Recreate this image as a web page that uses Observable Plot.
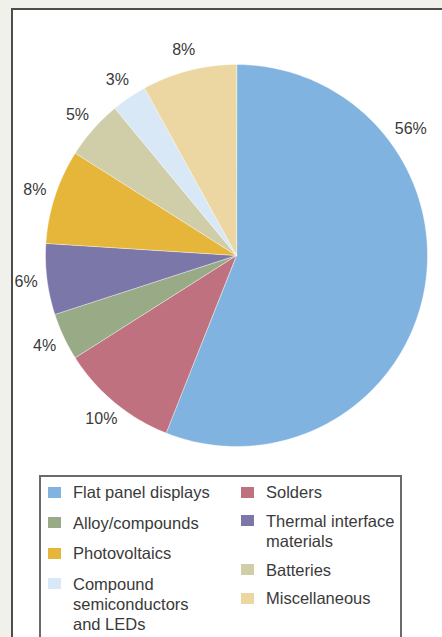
<!DOCTYPE html>
<html>
<head>
<meta charset="utf-8">
<script src="https://cdn.jsdelivr.net/npm/d3@7"></script>
<script src="https://cdn.jsdelivr.net/npm/@observablehq/plot@0.6"></script>
<style>
  html, body { margin: 0; padding: 0; width: 442px; height: 637px; overflow: hidden; background: #f1f1ec; font-family: "Liberation Sans", Arial, sans-serif; }
  #panel { position: absolute; left: 11px; top: 8px; width: 470px; height: 700px; background: #fff; border: 2px solid #4d4d4d; box-sizing: border-box; }
  #chart { position: absolute; left: 0; top: 0; }
  #legend { position: absolute; left: 39px; top: 475px; width: 363px; height: 220px; border: 2px solid #6a6a6a; box-sizing: border-box; background: #fff; }
  .col { position: absolute; top: 5px; display: flex; flex-direction: column; }
  #col1 { gap: 10.5px; }
  #col2 { gap: 8.8px; }
  .item { display: flex; align-items: flex-start; font-size: 16.5px; line-height: 20px; color: #3a3a3a; }
  .sw { width: 13px; height: 11px; margin-top: 4.5px; margin-right: 12px; flex: none; }
</style>
</head>
<body>
<div id="panel"></div>
<div id="chart"></div>
<div id="legend"><div class="col" id="col1" style="left:7px"></div><div class="col" id="col2" style="left:200px"></div></div>
<script>
// Data (clockwise from 12 o'clock)
const categories = ["Flat panel displays", "Solders", "Alloy/compounds", "Thermal interface materials", "Photovoltaics", "Batteries", "Compound semiconductors and LEDs", "Miscellaneous"];
const shares = [56, 10, 4, 6, 8, 5, 3, 8];
const colors = ["#80b3df", "#c0717f", "#98ab86", "#7b77a9", "#e6b63b", "#d0cda9", "#d9e8f7", "#ecd7a2"];
const legendCol1 = ["Flat panel displays", "Alloy/compounds", "Photovoltaics", "Compound semiconductors and LEDs"];
const legendCol2 = ["Solders", "Thermal interface materials", "Batteries", "Miscellaneous"];
const legendText = {
  "Flat panel displays": ["Flat panel displays"],
  "Alloy/compounds": ["Alloy/compounds"],
  "Photovoltaics": ["Photovoltaics"],
  "Compound semiconductors and LEDs": ["Compound", "semiconductors", "and LEDs"],
  "Solders": ["Solders"],
  "Thermal interface materials": ["Thermal interface", "materials"],
  "Batteries": ["Batteries"],
  "Miscellaneous": ["Miscellaneous"]
};

const data = categories.map((c, i) => ({name: c, value: shares[i]}));
const arcs = d3.pie().sort(null).value(d => d.value).startAngle(0).endAngle(2 * Math.PI)(data);

// polygon points for each slice in unit-radius coordinates (y up)
const pts = [];
for (const a of arcs) {
  const name = a.data.name;
  pts.push({name, x: 0, y: 0});
  const n = Math.max(2, Math.ceil((a.endAngle - a.startAngle) / (Math.PI / 180)));
  for (let k = 0; k <= n; k++) {
    const t = a.startAngle + (a.endAngle - a.startAngle) * k / n;
    pts.push({name, x: Math.sin(t), y: Math.cos(t)});
  }
}

const labels = arcs.map(a => {
  const big = a.endAngle - a.startAngle > Math.PI;
  const t = big ? a.startAngle + Math.PI * 0.30 : (a.startAngle + a.endAngle) / 2;
  const r = big ? 1.128 : 1.11;
  return {label: a.data.value + "%", x: r * Math.sin(t), y: r * Math.cos(t)};
});

const W = 442, H = 465, cx = 236, cy = 255, R = 191;
const chart = Plot.plot({
  width: W, height: H,
  margin: 0,
  style: {background: "transparent", overflow: "visible"},
  x: {domain: [-cx / R, (W - cx) / R], axis: null},
  y: {domain: [-(H - cy) / R, cy / R], axis: null},
  color: {domain: categories, range: colors},
  marks: [
    Plot.line(pts, {x: "x", y: "y", z: "name", fill: "name", stroke: "#ffffff", strokeWidth: 0.6, strokeOpacity: 0.7, curve: "linear-closed"}),
    Plot.text(labels, {x: "x", y: "y", text: "label", fontSize: 16, fill: "#3a3a3a", fontFamily: "Liberation Sans, Arial, sans-serif"})
  ]
});
document.getElementById("chart").appendChild(chart);

const colorOf = Object.fromEntries(categories.map((c, i) => [c, colors[i]]));
function fill(col, list) {
  const el = document.getElementById(col);
  for (const c of list) {
    const it = document.createElement("div");
    it.className = "item";
    const sw = document.createElement("div");
    sw.className = "sw";
    sw.style.background = colorOf[c];
    const tx = document.createElement("div");
    tx.innerHTML = legendText[c].join("<br>");
    it.appendChild(sw); it.appendChild(tx);
    el.appendChild(it);
  }
}
fill("col1", legendCol1);
fill("col2", legendCol2);
</script>
</body>
</html>
